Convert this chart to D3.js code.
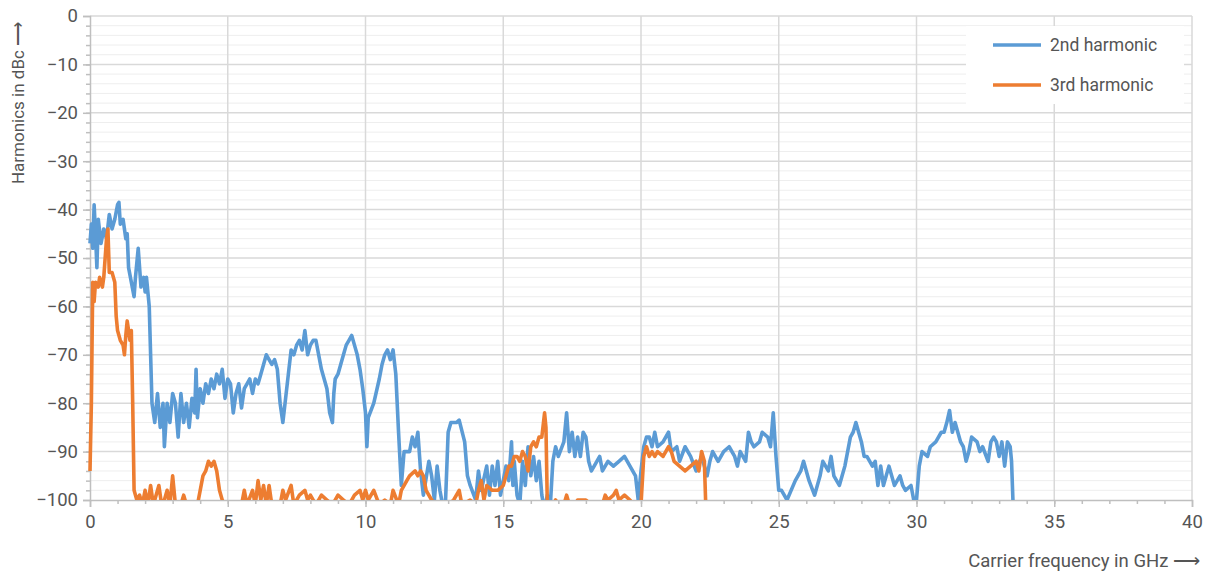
<!DOCTYPE html>
<html>
<head>
<meta charset="UTF-8">
<script src="https://d3js.org/d3.v7.min.js"></script>
<style>
  body { margin: 0; background: #fff; font-family: Roboto, sans-serif; }
  text { fill: #555; }
</style>
</head>
<body>
<svg width="1213" height="577"></svg>
<script>
const secondF = [0,0.05,0.1,0.15,0.2,0.25,0.3,0.4,0.5,0.6,0.7,0.8,0.9,1.0,1.05,1.1,1.2,1.3,1.35,1.4,1.5,1.6,1.65,1.75,1.85,1.95,2.0,2.05,2.15,2.2,2.25,2.35,2.45,2.55,2.65,2.7,2.8,2.9,3.0,3.1,3.2,3.3,3.4,3.5,3.6,3.7,3.8,3.85,3.9,4.0,4.1,4.2,4.3,4.4,4.5,4.6,4.7,4.8,4.9,5.0,5.1,5.2,5.3,5.4,5.5,5.6,5.7,5.8,5.9,6.0,6.1,6.2,6.3,6.4,6.5,6.6,6.7,6.8,6.9,7.0,7.1,7.2,7.3,7.4,7.5,7.6,7.7,7.8,7.9,8.0,8.1,8.2,8.3,8.4,8.5,8.6,8.7,8.8,8.85,8.9,9.0,9.1,9.2,9.3,9.4,9.5,9.6,9.7,9.8,9.9,10.0,10.05,10.1,10.3,10.5,10.6,10.7,10.8,10.9,11.0,11.1,11.2,11.3,11.4,11.6,11.7,11.8,11.9,12.0,12.1,12.3,12.4,12.5,12.6,12.7,12.8,12.9,13.0,13.1,13.3,13.4,13.6,13.7,13.8,14.0,14.1,14.2,14.4,14.5,14.6,14.7,14.8,14.9,15.0,15.1,15.2,15.3,15.35,15.4,15.5,15.6,15.7,15.8,15.9,16.0,16.1,16.2,16.3,16.4,16.5,16.6,16.7,16.8,16.9,17.0,17.2,17.3,17.4,17.5,17.6,17.7,17.8,17.9,18.0,18.1,18.2,18.3,18.5,18.6,18.8,19.0,19.2,19.4,19.6,19.8,19.9,20.0,20.1,20.2,20.3,20.4,20.5,20.6,20.8,21.0,21.1,21.3,21.4,21.6,21.8,22.0,22.2,22.4,22.5,22.6,22.8,23.0,23.2,23.4,23.5,23.6,23.8,23.9,24.0,24.1,24.3,24.4,24.6,24.7,24.8,24.9,25.0,25.1,25.3,25.6,25.8,25.9,26.0,26.1,26.3,26.5,26.6,26.8,26.9,27.0,27.2,27.3,27.4,27.5,27.6,27.7,27.8,27.9,28.0,28.1,28.2,28.4,28.5,28.6,28.7,28.8,28.9,29.0,29.2,29.4,29.5,29.6,29.8,29.9,30.0,30.1,30.2,30.4,30.5,30.7,30.9,31.0,31.1,31.2,31.3,31.4,31.6,31.7,31.8,31.9,32.0,32.2,32.3,32.4,32.6,32.7,32.8,32.9,33.0,33.1,33.2,33.3,33.4,33.45,33.5,33.55];
const secondV = [-47,-43,-48,-39,-45,-52,-42,-47,-44,-46,-41,-44,-42,-39,-38.5,-43,-42,-46,-45,-52,-55,-58,-54,-48,-56,-54,-57,-54,-60,-70,-80,-84,-78,-85,-80,-89,-80,-84,-78,-80,-87,-78,-84,-80,-85,-79,-82,-73,-83,-77,-80,-76,-78,-75,-77,-74,-76,-73,-79,-75,-76,-82,-78,-76,-81,-77,-76,-75,-78,-75,-76,-74,-72,-70,-71,-72,-71,-73,-80,-84,-79,-74,-69,-70,-68,-67,-69,-65,-70,-68,-67,-67,-70,-73,-75,-77,-82,-84,-78,-75,-74,-72,-70,-68,-67,-66,-68,-70,-73,-77,-82,-89,-83,-80,-75,-72,-70,-69,-71,-69,-74,-86,-97,-90,-90,-87,-89,-86,-94,-99,-92,-95,-100,-93,-98,-101,-101,-86,-84,-84,-83.5,-88,-95,-97,-100,-94,-98,-93,-99,-93,-97,-92,-99,-96,-93,-96,-88,-97,-92,-99,-101,-92,-97,-89,-95,-91,-96,-92,-99,-102,-99,-102,-92,-89,-91,-88,-82,-90,-86,-91,-87,-91,-86,-87,-92,-94,-93,-91,-94,-92,-93,-92,-91,-93,-95,-100,-94,-89,-87,-87,-89,-86,-89,-88,-86,-90,-89,-92,-89,-91,-94,-91,-95,-92,-90,-92,-90,-89,-91,-93,-90,-92,-86,-88,-89,-88,-86,-87,-89,-82,-91,-98,-98,-100,-96,-94,-92,-94,-96,-99,-95,-92,-94,-91,-95,-97,-95,-93,-90,-87,-86,-84,-86,-88,-91,-91,-93,-92,-97,-93,-97,-95,-93,-97,-95,-97,-98,-97,-100,-100,-93,-90,-91,-89,-88,-86,-86,-84,-81.5,-86,-84,-88,-89,-92,-90,-87,-88,-90,-89,-92,-88,-87,-88,-91,-88,-93,-88,-89,-92,-100,-101];

const thirdF = [0,0.05,0.1,0.15,0.2,0.3,0.35,0.45,0.5,0.55,0.6,0.65,0.7,0.8,0.9,0.95,1.0,1.1,1.2,1.25,1.3,1.35,1.4,1.45,1.5,1.55,1.6,1.7,1.8,1.9,2.0,2.1,2.2,2.3,2.5,2.6,2.7,2.8,2.9,3.0,3.1,3.2,3.3,3.4,3.5,3.9,4.0,4.1,4.2,4.3,4.4,4.5,4.6,4.7,4.8,4.9,5.5,5.6,5.7,5.9,6.0,6.1,6.2,6.3,6.4,6.5,6.6,6.9,7.0,7.1,7.3,7.4,7.6,7.8,7.9,8.0,8.2,8.4,8.6,8.8,9.0,9.2,9.4,9.6,9.8,9.9,10.0,10.1,10.3,10.5,10.7,10.9,11.0,11.2,11.3,11.5,11.6,11.8,11.9,12.0,12.1,12.2,12.4,12.6,13.0,13.2,13.4,13.5,13.8,14.0,14.1,14.2,14.3,14.4,14.6,14.8,15.0,15.1,15.2,15.3,15.4,15.5,15.6,15.7,15.8,15.9,16.0,16.1,16.2,16.3,16.4,16.5,16.55,16.6,16.8,16.9,17.0,17.2,17.3,17.4,17.6,17.7,18.0,18.2,18.6,18.7,18.8,19.0,19.1,19.2,19.4,19.6,19.7,20.0,20.1,20.2,20.3,20.4,20.5,20.6,20.8,21.0,21.1,21.2,21.4,21.6,21.8,22.0,22.1,22.2,22.3,22.35,22.4];
const thirdV = [-94,-80,-55,-59,-55,-56,-54,-56,-54,-50,-46,-44,-53,-53,-55,-62,-65,-67,-68,-70,-66,-63,-65,-67,-65,-80,-98,-100,-99,-101,-98,-101,-97,-101,-97,-101,-100,-98,-101,-95,-101,-101,-101,-99,-101,-101,-98,-95,-94,-92,-93,-92,-94,-98,-100,-101,-101,-98,-101,-98,-101,-96,-100,-97,-101,-97,-101,-101,-98,-100,-97,-101,-99,-98,-100,-99,-101,-99,-100,-101,-99,-100,-101,-99,-98,-100,-98,-100,-98,-101,-100,-101,-98,-101,-98,-96,-95,-94,-95,-94,-95,-98,-100,-101,-101,-100,-98,-101,-100,-101,-98,-96,-100,-97,-98,-98,-97,-95,-93,-93,-91,-91,-92,-90,-91,-94,-89,-88,-89,-87,-87,-82,-85,-101,-101,-100,-101,-101,-99,-101,-101,-100,-100,-101,-101,-99,-100,-99,-98,-100,-99,-100,-101,-101,-91,-89,-91,-90,-91,-90,-91,-89,-90,-92,-93,-94,-93,-92,-94,-90,-92,-101,-102];

const xTicks = [0,5,10,15,20,25,30,35,40];
const yTicks = [0,-10,-20,-30,-40,-50,-60,-70,-80,-90,-100];
const seriesNames = ["2nd harmonic", "3rd harmonic"];
const seriesColors = ["#5b9bd5", "#ed7d31"];

const svg = d3.select("svg");
const x = d3.scaleLinear().domain([0, 40]).range([90, 1192]);
const y = d3.scaleLinear().domain([-100, 0]).range([500, 16]);

// minor grid every 2 dB
const g = svg.append("g");
g.selectAll(".minor").data(d3.range(-98, 0, 2).filter(v => v % 10 !== 0)).enter()
  .append("line").attr("x1", 90).attr("x2", 1192)
  .attr("y1", d => y(d)).attr("y2", d => y(d))
  .attr("stroke", "#eeeeee").attr("stroke-width", 1);
g.selectAll(".hmaj").data(yTicks.slice(0, -1)).enter()
  .append("line").attr("x1", 90).attr("x2", 1192)
  .attr("y1", d => y(d)).attr("y2", d => y(d))
  .attr("stroke", "#d9d9d9").attr("stroke-width", 1.5);
g.selectAll(".vmaj").data(xTicks.slice(1)).enter()
  .append("line").attr("y1", 16).attr("y2", 500)
  .attr("x1", d => x(d)).attr("x2", d => x(d))
  .attr("stroke", "#d9d9d9").attr("stroke-width", 1.5);

// axes
svg.append("g").attr("transform", "translate(90,0)")
  .call(d3.axisLeft(y).tickValues(yTicks).tickSize(7).tickPadding(5));
svg.append("g").attr("transform", "translate(0,500)")
  .call(d3.axisBottom(x).tickValues(xTicks).tickSize(7).tickPadding(8));
svg.append("g").attr("transform", "translate(90,0)")
  .call(d3.axisLeft(y).tickValues(d3.range(-98, 0, 2)).tickSize(4).tickFormat(""))
  .select(".domain").remove();
svg.append("g").attr("transform", "translate(0,500)")
  .call(d3.axisBottom(x).tickValues(d3.range(1, 40)).tickSize(4).tickFormat(""))
  .select(".domain").remove();
svg.selectAll(".domain, .tick line").attr("stroke", "#bfbfbf").attr("stroke-width", 1.5);
svg.selectAll(".tick text").style("font-size", "18.5px").style("font-family", "Roboto, sans-serif").attr("fill", "#555");

svg.append("defs").append("clipPath").attr("id", "clip")
  .append("rect").attr("x", 88).attr("y", 10).attr("width", 1110).attr("height", 490);

const line = d3.line().x(d => x(d[0])).y(d => y(d[1]));
const data = [d3.zip(secondF, secondV), d3.zip(thirdF, thirdV)];
[0, 1].forEach(i => {
  svg.append("path").datum(data[i]).attr("clip-path", "url(#clip)")
    .attr("d", line).attr("fill", "none")
    .attr("stroke", seriesColors[i]).attr("stroke-width", 3.6)
    .attr("stroke-linejoin", "round");
});

// legend
const lg = svg.append("g");
lg.append("rect").attr("x", 966).attr("y", 26).attr("width", 218).attr("height", 78).attr("fill", "#fff");
seriesNames.forEach((n, i) => {
  lg.append("line").attr("x1", 993).attr("x2", 1041)
    .attr("y1", 45 + i * 40).attr("y2", 45 + i * 40)
    .attr("stroke", seriesColors[i]).attr("stroke-width", 3.6);
  lg.append("text").attr("x", 1050).attr("y", 51 + i * 40)
    .style("font-size", "17.5px").text(n);
});

svg.append("text").attr("transform", "translate(24,103) rotate(-90)")
  .attr("text-anchor", "middle").style("font-size", "17px").text("Harmonics in dBc ⟶");
svg.append("text").attr("x", 1200).attr("y", 567)
  .attr("text-anchor", "end").style("font-size", "18.5px").text("Carrier frequency in GHz ⟶");
</script>
</body>
</html>
